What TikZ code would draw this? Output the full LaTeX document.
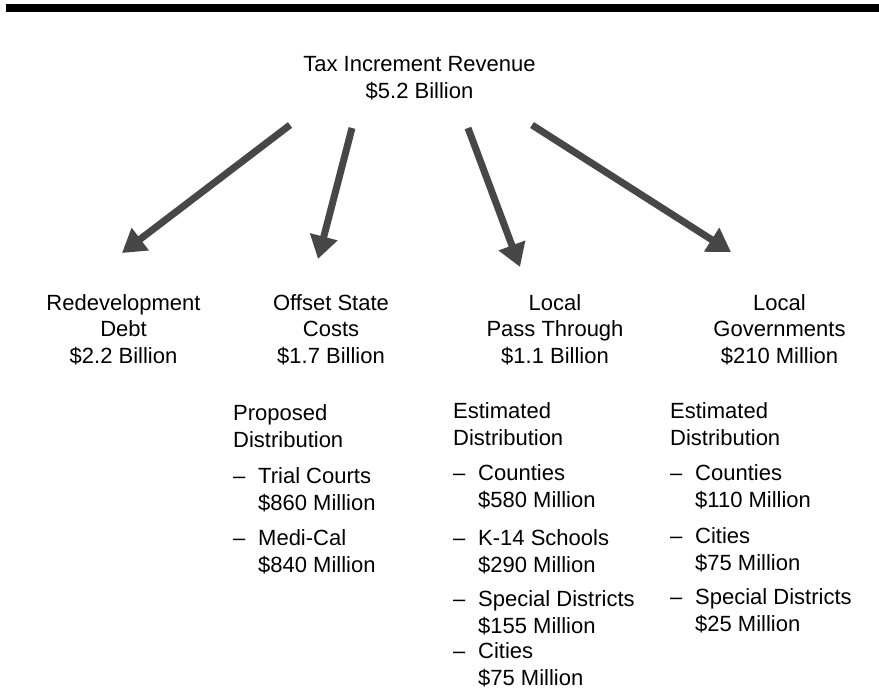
\documentclass[tikz,border=0pt]{standalone}
\usepackage{fontspec}
\setmainfont{Liberation Sans}
\usetikzlibrary{arrows.meta}
\newcommand{\itemdash}{\makebox[25pt][l]{--}}
\newcommand{\itemgap}{\hspace*{25pt}}

\begin{document}
\begin{tikzpicture}[x=1pt, y=-1pt,
  every node/.style={inner sep=0pt, font=\fontsize{22}{26.5}\selectfont},
  heading/.style={align=center, anchor=base},
  distlist/.style={align=left, anchor=base west},
  flow/.style={line width=7pt, draw=black!72,
    -{Triangle[length=23pt,width=27pt]}}]
\useasboundingbox (0,0) rectangle (879,691);
% top rule
\fill (6,4) rectangle (879,11.5);

% source (base = last line)
\node[heading] (tir) at (419.5,98) {Tax Increment Revenue\\\$5.2 Billion};

% the four uses
\node[heading] (redev) at (123.5,363) {Redevelopment\\Debt\\\$2.2 Billion};
\node[heading] (state) at (331,363) {Offset State\\Costs\\\$1.7 Billion};
\node[heading] (pass) at (555,363) {Local\\Pass Through\\\$1.1 Billion};
\node[heading] (govt) at (779.5,363) {Local\\Governments\\\$210 Million};

% arrow ends
\coordinate (tir-a) at (290,125);
\coordinate (tir-b) at (352,128);
\coordinate (tir-c) at (468,128);
\coordinate (tir-d) at (532,125);
\coordinate (redev-in) at (122,253);
\coordinate (state-in) at (318,259);
\coordinate (pass-in) at (520,267);
\coordinate (govt-in) at (731,252);

\draw[flow] (tir-a) -- (redev-in);
\draw[flow] (tir-b) -- (state-in);
\draw[flow] (tir-c) -- (pass-in);
\draw[flow] (tir-d) -- (govt-in);

% offset state costs
\node[distlist] (state-dist) at (233,447) {Proposed\\Distribution};
\node[distlist] (state-courts) at (233,510) {\itemdash Trial Courts\\\itemgap\$860 Million};
\node[distlist] (state-medical) at (233,572) {\itemdash Medi-Cal\\\itemgap\$840 Million};

% local pass through
\node[distlist] (pass-dist) at (453,445) {Estimated\\Distribution};
\node[distlist] (pass-counties) at (453,507) {\itemdash Counties\\\itemgap\$580 Million};
\node[distlist] (pass-schools) at (453,572) {\itemdash K-14 Schools\\\itemgap\$290 Million};
\node[distlist] (pass-special) at (453,633) {\itemdash Special Districts\\\itemgap\$155 Million};
\node[distlist] (pass-cities) at (453,685) {\itemdash Cities\\\itemgap\$75 Million};

% local governments
\node[distlist] (govt-dist) at (670,445) {Estimated\\Distribution};
\node[distlist] (govt-counties) at (670,507) {\itemdash Counties\\\itemgap\$110 Million};
\node[distlist] (govt-cities) at (670,570) {\itemdash Cities\\\itemgap\$75 Million};
\node[distlist] (govt-special) at (670,631) {\itemdash Special Districts\\\itemgap\$25 Million};
\end{tikzpicture}
\end{document}
